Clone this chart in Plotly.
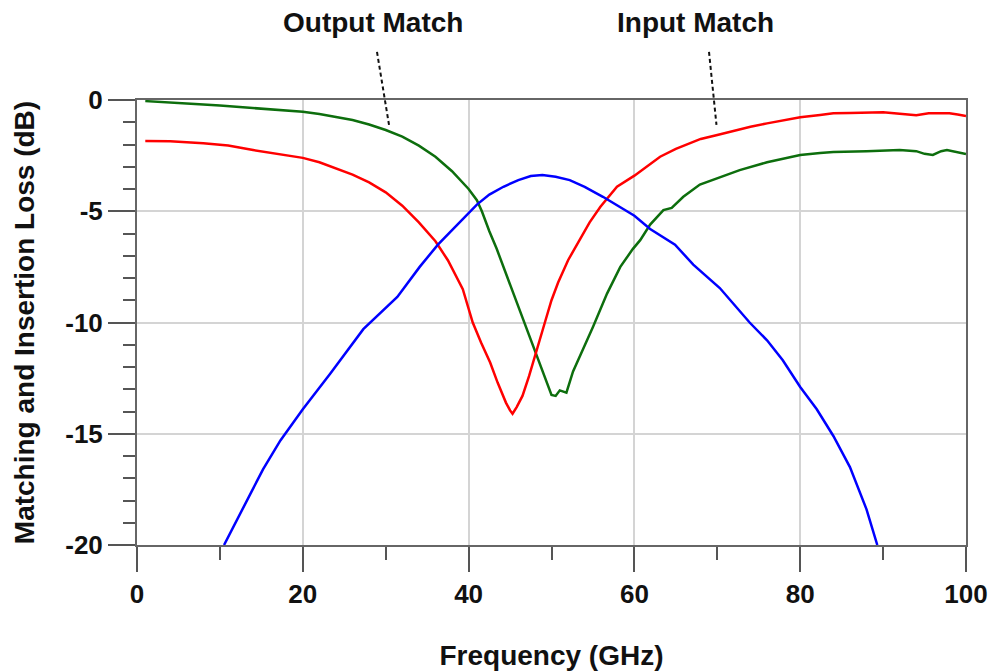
import plotly.graph_objects as go

# Output match (green)
out_f = [1, 4, 7, 10, 12, 15, 18, 20, 22, 24, 26, 28, 30, 32, 34, 36, 38, 40, 41, 41.6, 42.5, 43.4, 44.2, 45.2, 46.2,
         47.4, 48.2, 49.5, 50, 50.5, 51, 51.8, 52.6, 53.8, 55, 56.7, 58.3, 59.8, 60.7, 61.9, 63.5, 64.5,
         65.9, 67.9, 70, 72.7, 76, 80, 82.4, 84, 88, 92, 94, 95, 96, 97, 97.7, 99, 100]
out_db = [-0.05, -0.10, -0.18, -0.25, -0.30, -0.38, -0.47, -0.53, -0.63, -0.76, -0.90, -1.10, -1.35, -1.65,
          -2.05, -2.55, -3.2, -4.0, -4.5, -5.0, -5.9, -6.7, -7.5, -8.5, -9.5,
          -10.65, -11.45, -12.75, -13.26, -13.3, -13.05, -13.15, -12.2, -11.2, -10.2, -8.7, -7.5, -6.7, -6.3,
          -5.6, -4.95, -4.85, -4.35, -3.8, -3.5, -3.15, -2.8, -2.47, -2.38, -2.34, -2.3, -2.25, -2.3, -2.42,
          -2.47, -2.3, -2.25, -2.35, -2.43]

# Input match (red)
in_f = [1, 4, 8, 11, 14, 17, 20, 22, 24, 26, 28, 30, 32, 34, 36, 37.5, 39.3, 40.5, 41.5, 42.6, 43.5, 44.5,
        45, 45.3, 45.8, 46.5, 47.3, 48, 49.2, 50, 50.8, 52, 53.4, 54.6, 55.9, 57.9, 60, 61.5, 63.1, 65,
        66.7, 68, 70, 72, 74, 76, 78, 80, 82.4, 84, 86, 88, 90, 92, 94, 95.5, 97, 98, 99, 100]
in_db = [-1.84, -1.85, -1.94, -2.05, -2.25, -2.42, -2.6, -2.8, -3.06, -3.35, -3.7, -4.15, -4.75, -5.5,
         -6.35, -7.2, -8.5, -10.0, -10.9, -11.8, -12.7, -13.6, -13.95, -14.1, -13.8, -13.3, -12.4, -11.55,
         -10.0, -9.0, -8.2, -7.2, -6.3, -5.5, -4.8, -3.9, -3.4, -3.0, -2.55, -2.2, -1.95, -1.75, -1.57,
         -1.38, -1.2, -1.05, -0.9, -0.78, -0.67, -0.6, -0.58, -0.55, -0.55, -0.62, -0.68, -0.6, -0.6, -0.6,
         -0.65, -0.72]

# Insertion loss (blue)
il_f = [10.5, 13.3, 15.2, 17.3, 20, 23.3, 27.3, 31.4, 34.1, 36.3, 38.6, 41, 42.5, 44.2, 46, 47.5, 48.9,
        50.5, 52.2, 54, 56.2, 58, 60, 61.9, 64.9, 67.1, 70.3, 73.9, 76, 77.9, 80, 82, 84, 86, 88, 89.3]
il_db = [-20.0, -18.0, -16.6, -15.3, -13.9, -12.3, -10.3, -8.85, -7.5, -6.5, -5.6, -4.7, -4.25, -3.9,
         -3.6, -3.42, -3.37, -3.45, -3.6, -3.9, -4.35, -4.75, -5.2, -5.8, -6.5, -7.4, -8.45, -10.0, -10.8,
         -11.7, -12.9, -13.9, -15.1, -16.5, -18.4, -20.0]

x_ticks = [0, 20, 40, 60, 80, 100]
y_ticks = [0, -5, -10, -15, -20]

FONT = "Liberation Sans, Arial, sans-serif"

fig = go.Figure()
fig.add_trace(go.Scatter(x=out_f, y=out_db, mode="lines", line=dict(color="#0d6e0d", width=2.5),
                         name="Output Match", showlegend=False))
fig.add_trace(go.Scatter(x=in_f, y=in_db, mode="lines", line=dict(color="#ff0000", width=2.5),
                         name="Input Match", showlegend=False))
fig.add_trace(go.Scatter(x=il_f, y=il_db, mode="lines", line=dict(color="#0000ff", width=2.5),
                         name="Insertion Loss", showlegend=False))

axis_common = dict(
    showline=True, linecolor="#666666", linewidth=2, mirror=True,
    showgrid=True, gridcolor="#d4d4d4", gridwidth=1.5,
    ticks="outside", tickcolor="#555555", tickwidth=2,
    tickfont=dict(family=FONT, size=26, color="#111111", weight="bold"),
    zeroline=False, automargin=False,
)

fig.update_xaxes(
    range=[0, 100], tickvals=x_ticks, ticktext=[str(v) for v in x_ticks], ticklen=25,
    minor=dict(dtick=10, ticks="outside", ticklen=13, tickcolor="#555555", tickwidth=2, showgrid=False),
    title=dict(text="Frequency (GHz)", font=dict(family=FONT, size=28, color="#111111", weight="bold"),
               standoff=40),
    **axis_common,
)
fig.update_yaxes(
    range=[-20, 0], tickvals=y_ticks, ticktext=[str(v) for v in y_ticks], ticklen=27,
    minor=dict(dtick=1, ticks="outside", ticklen=12, tickcolor="#555555", tickwidth=2, showgrid=False),
    title=dict(text="Matching and Insertion Loss (dB)",
               font=dict(family=FONT, size=28, color="#111111", weight="bold"), standoff=22),
    **axis_common,
)

# Labels with dashed pointers
ann_font = dict(family=FONT, size=28, color="#111111", weight="bold")
fig.add_annotation(text="Output Match", x=0.285, y=1.175, xref="paper", yref="paper", showarrow=False,
                   xanchor="center", yanchor="middle", font=ann_font)
fig.add_annotation(text="Input Match", x=0.674, y=1.175, xref="paper", yref="paper", showarrow=False,
                   xanchor="center", yanchor="middle", font=ann_font)
fig.add_shape(type="line", xref="paper", yref="paper", x0=0.2895, y0=1.108, x1=0.304, y1=0.944,
              line=dict(color="#111111", width=2, dash="4px,3px"))
fig.add_shape(type="line", xref="paper", yref="paper", x0=0.690, y0=1.108, x1=0.699, y1=0.944,
              line=dict(color="#111111", width=2, dash="4px,3px"))

fig.update_layout(
    width=991, height=671,
    margin=dict(l=137, r=25, t=100, b=126, autoexpand=False),
    paper_bgcolor="white", plot_bgcolor="white",
    showlegend=False,
)

fig.write_html("out.html", config={"displayModeBar": False},
               post_script="document.body.style.margin='0';document.body.style.overflow='hidden';")
